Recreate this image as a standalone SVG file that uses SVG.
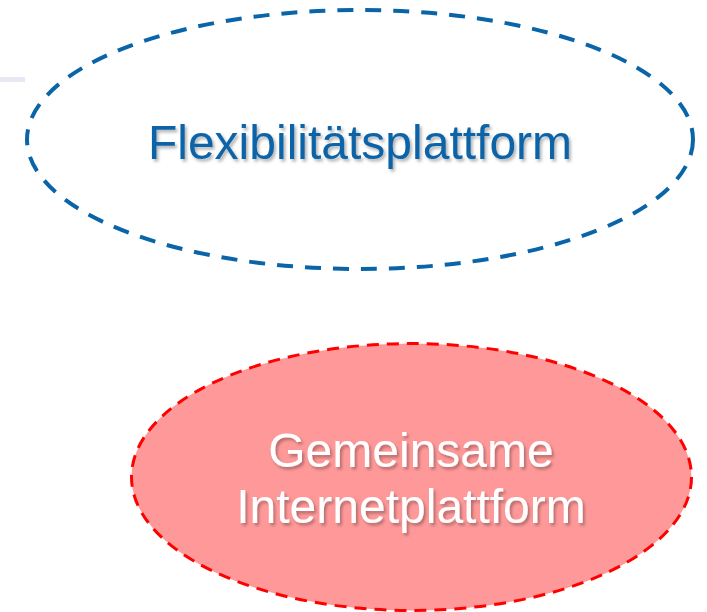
<svg xmlns="http://www.w3.org/2000/svg" width="707" height="612" viewBox="0 0 707 612">
<defs>
<style>
.lbl{font-family:"Liberation Sans",Arial,sans-serif;font-size:48px;text-anchor:middle;filter:url(#sh)}
</style>
<filter id="sh" x="-10%" y="-30%" width="120%" height="160%">
<feDropShadow dx="2" dy="2.5" stdDeviation="1.5" flood-color="#000" flood-opacity="0.3"/>
</filter>
</defs>
<rect x="0" y="77" width="25" height="5" fill="#E8E8F4"/>
<g id="flex">
<ellipse cx="360" cy="139.5" rx="333" ry="129.5" fill="none" stroke="#0A64A8" stroke-width="4" stroke-dasharray="16 12"/>
<text class="lbl" x="360" y="159" fill="#0A64A8">Flexibilitätsplattform</text>
</g>
<g id="internet">
<ellipse cx="411.5" cy="477" rx="280" ry="133.5" fill="#FF9999" stroke="#FF0000" stroke-width="3" stroke-dasharray="12 8"/>
<text class="lbl" x="411" y="467" fill="#FFFFFF">Gemeinsame</text>
<text class="lbl" x="411" y="523" fill="#FFFFFF">Internetplattform</text>
</g>
<g id="connectors"/>
</svg>
